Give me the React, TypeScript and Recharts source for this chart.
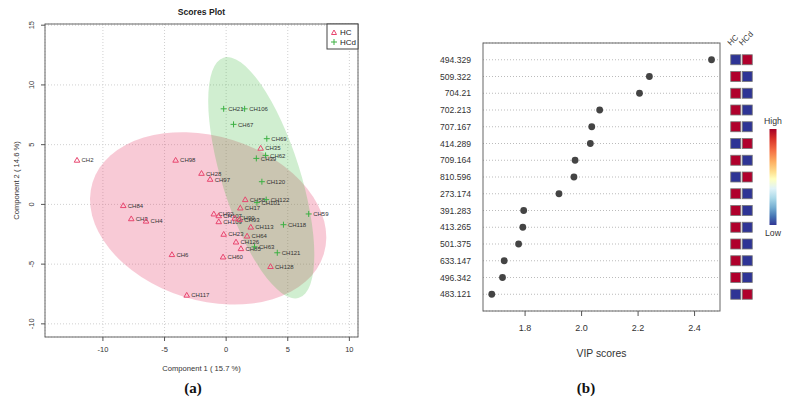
import React from 'react'
import {
  ScatterChart,
  Scatter,
  XAxis,
  YAxis,
  CartesianGrid,
  usePlotArea,
  useXAxisScale,
  useYAxisScale
} from 'recharts'

const FONT = '"Liberation Sans", Arial, Helvetica, sans-serif'

// ---- (a) scores plot ----
const HC_NAMES = ['CH2', 'CH98', 'CH28', 'CH97', 'CH35', 'CH84', 'CH3', 'CH4', 'CH6', 'CH117', 'CH60', 'CH23', 'CH126', 'CH85', 'CH64', 'CH113', 'CH128', 'CH17', 'CH58', 'CH92', 'CH107', 'CH109', 'CH90', 'CH93']
const HC_X = [-12.1, -4.1, -2.0, -1.3, 2.8, -8.35, -7.7, -6.5, -4.4, -3.2, -0.25, -0.2, 0.8, 1.2, 1.7, 2.0, 3.6, 1.15, 1.55, -1.0, -0.6, -0.6, 0.7, 1.1]
const HC_Y = [3.7, 3.7, 2.6, 2.1, 4.7, -0.1, -1.2, -1.4, -4.2, -7.6, -4.4, -2.5, -3.15, -3.7, -2.65, -1.9, -5.2, -0.3, 0.4, -0.8, -0.95, -1.45, -1.15, -1.25]

const HCD_NAMES = ['CH21', 'CH106', 'CH67', 'CH69', 'CH39', 'CH62', 'CH120', 'CH122', 'CH101', 'CH118', 'CH59', 'CH121', 'CH63']
const HCD_X = [-0.2, 1.5, 0.6, 3.3, 2.45, 3.2, 2.9, 3.25, 2.5, 4.65, 6.7, 4.15, 2.3]
const HCD_Y = [8.0, 8.0, 6.7, 5.5, 3.85, 4.1, 1.9, 0.4, 0.15, -1.7, -0.8, -4.05, -3.55]

// 95% regions: centre and the two semi-axis vectors, in data units
const ELLIPSE_CX = [-1.46, 2.85]
const ELLIPSE_CY = [-1.17, 2.23]
const ELLIPSE_U = [[9.38, -3.01], [3.06, -10.05]]
const ELLIPSE_V = [[-1.98, -6.56], [-3.03, -0.98]]

const SCORE_X_TICKS = [-10, -5, 0, 5, 10]
const SCORE_Y_TICKS = [-10, -5, 0, 5, 10, 15]

// ---- (b) VIP scores ----
const FEATURES = ['494.329', '509.322', '704.21', '702.213', '707.167', '414.289', '709.164', '810.596', '273.174', '391.283', '413.265', '501.375', '633.147', '496.342', '483.121']
const VIP = [2.46, 2.24, 2.205, 2.064, 2.036, 2.031, 1.977, 1.973, 1.92, 1.795, 1.792, 1.777, 1.726, 1.72, 1.682]
const HC_LEVEL = ['low', 'high', 'high', 'high', 'high', 'low', 'high', 'low', 'high', 'high', 'high', 'high', 'high', 'high', 'low']
const HCD_LEVEL = ['high', 'low', 'low', 'low', 'low', 'high', 'low', 'high', 'low', 'low', 'low', 'low', 'low', 'low', 'high']
const GROUPS = ['HC', 'HCd']
const VIP_TICKS = [1.8, 2.0, 2.2, 2.4]

const PINK = '#e8466f'
const GREEN = '#3cb043'
const RED_CELL = '#b0002c'
const BLUE_CELL = '#2e3495'

const hcData = HC_NAMES.map((n, i) => ({ name: n, x: HC_X[i], y: HC_Y[i] }))
const hcdData = HCD_NAMES.map((n, i) => ({ name: n, x: HCD_X[i], y: HCD_Y[i] }))
const vipData = FEATURES.map((f, i) => ({ name: f, vip: VIP[i], row: i + 1 }))
const heatData = FEATURES.flatMap((f, i) => [
  { row: i + 1, col: 1, level: HC_LEVEL[i] },
  { row: i + 1, col: 2, level: HCD_LEVEL[i] }
])

function callScale(s: any, v: number) {
  if (!s) return 0
  if (typeof s === 'function') return s(v)
  if (typeof s.map === 'function') return s.map(v)
  return 0
}

function Ellipses() {
  const xs = useXAxisScale()
  const ys = useYAxisScale()
  if (!xs || !ys) return null
  const fills = ['rgb(233,80,120)', 'rgb(60,185,60)']
  const ops = [0.3, 0.24]
  return (
    <g>
      {ELLIPSE_CX.map((cx, i) => {
        const cy = ELLIPSE_CY[i]
        const px = callScale(xs, cx)
        const py = callScale(ys, cy)
        const ux = callScale(xs, cx + ELLIPSE_U[i][0]) - px
        const uy = callScale(ys, cy + ELLIPSE_U[i][1]) - py
        const vx = callScale(xs, cx + ELLIPSE_V[i][0]) - px
        const vy = callScale(ys, cy + ELLIPSE_V[i][1]) - py
        return (
          <ellipse
            key={i}
            cx={0}
            cy={0}
            rx={1}
            ry={1}
            transform={`matrix(${ux} ${uy} ${vx} ${vy} ${px} ${py})`}
            fill={fills[i]}
            fillOpacity={ops[i]}
            stroke="none"
          />
        )
      })}
    </g>
  )
}

function ScoresFrame() {
  const pa = usePlotArea()
  if (!pa) return null
  const right = pa.x + pa.width
  const bottom = pa.y + pa.height
  return (
    <g fontFamily={FONT}>
      <rect x={pa.x} y={pa.y} width={pa.width} height={pa.height} fill="none" stroke="#666" />
      <text x={pa.x + pa.width / 2} y={pa.y - 9} textAnchor="middle" fontSize={8.6} fontWeight="bold" fill="#222">
        Scores Plot
      </text>
      <text x={pa.x + pa.width / 2} y={bottom + 33.5} textAnchor="middle" fontSize={7.6} fill="#333">
        Component 1 ( 15.7 %)
      </text>
      <text
        x={pa.x - 26}
        y={pa.y + pa.height / 2}
        textAnchor="middle"
        fontSize={7.6}
        fill="#333"
        transform={`rotate(-90 ${pa.x - 26} ${pa.y + pa.height / 2})`}
      >
        Component 2 ( 14.6 %)
      </text>
      <rect x={right - 31} y={pa.y} width={31} height={25} fill="#fff" stroke="#444" />
      <path
        d={`M${right - 24} ${pa.y + 6} L${right - 26.5} ${pa.y + 10.5} L${right - 21.5} ${pa.y + 10.5} Z`}
        fill="none"
        stroke={PINK}
      />
      <text x={right - 18} y={pa.y + 11} fontSize={8} fill="#222">HC</text>
      <path
        d={`M${right - 27} ${pa.y + 18} h6 M${right - 24} ${pa.y + 15} v6`}
        stroke={GREEN}
      />
      <text x={right - 18} y={pa.y + 21} fontSize={8} fill="#222">HCd</text>
    </g>
  )
}

const Triangle = (props: any) => {
  const { cx, cy, payload } = props
  return (
    <g>
      <path d={`M${cx} ${cy - 2.8} L${cx - 2.8} ${cy + 2} L${cx + 2.8} ${cy + 2} Z`} fill="none" stroke={PINK} strokeWidth={1} />
      <text x={cx + 4.5} y={cy + 2.2} fontSize={6} fill="#333" fontFamily={FONT}>{payload.name}</text>
    </g>
  )
}

const Plus = (props: any) => {
  const { cx, cy, payload } = props
  return (
    <g>
      <path d={`M${cx - 3} ${cy} h6 M${cx} ${cy - 3} v6`} stroke={GREEN} strokeWidth={1} />
      <text x={cx + 4.5} y={cy + 2.2} fontSize={6} fill="#333" fontFamily={FONT}>{payload.name}</text>
    </g>
  )
}

const RotatedYTick = (props: any) => {
  const { x, y, payload } = props
  const px = x - 1.5
  return (
    <text x={px} y={y} textAnchor="middle" fontSize={7.5} fill="#333" fontFamily={FONT} transform={`rotate(-90 ${px} ${y})`}>
      {payload.value}
    </text>
  )
}

function VipFrame() {
  const pa = usePlotArea()
  if (!pa) return null
  return (
    <g fontFamily={FONT}>
      <rect x={pa.x} y={pa.y} width={pa.width} height={pa.height} fill="none" stroke="#666" />
      <text x={pa.x + pa.width / 2} y={pa.y + pa.height + 46} textAnchor="middle" fontSize={10.4} fill="#333">
        VIP scores
      </text>
    </g>
  )
}

const Dot = (props: any) => <circle cx={props.cx} cy={props.cy} r={3.4} fill="#444" />

const Cell = (props: any) => {
  const { cx, cy, payload } = props
  return (
    <rect
      x={cx - 5}
      y={cy - 5}
      width={10}
      height={10}
      fill={payload.level === 'high' ? RED_CELL : BLUE_CELL}
      stroke="#777"
      strokeWidth={0.8}
    />
  )
}

const GroupTick = (props: any) => {
  const { x, payload } = props
  const tx = x - 5
  const ty = 46
  return (
    <text x={tx} y={ty} fontSize={8} fill="#333" fontFamily={FONT} transform={`rotate(-45 ${tx} ${ty})`}>
      {GROUPS[payload.value - 1]}
    </text>
  )
}

export default function App() {
  return (
    <div style={{ position: 'absolute', left: 0, top: 0, width: 788, height: 405, background: '#fff', overflow: 'hidden' }}>
      {/* (a) */}
      <div style={{ position: 'absolute', left: 0, top: 0 }}>
        <ScatterChart width={400} height={405} margin={{ top: 24, right: 42, left: 15, bottom: 43 }}>
          <CartesianGrid stroke="#d0d0d0" strokeDasharray="1 2" />
          <XAxis
            type="number"
            dataKey="x"
            domain={[-14.7, 10.7]}
            ticks={SCORE_X_TICKS}
            allowDataOverflow
            height={25}
            axisLine={false}
            tickSize={4}
            tickMargin={6}
            tickLine={{ stroke: '#555' }}
            tick={{ fontSize: 7.5, fill: '#333', fontFamily: FONT }}
          />
          <YAxis
            type="number"
            dataKey="y"
            domain={[-11.1, 15.1]}
            ticks={SCORE_Y_TICKS}
            allowDataOverflow
            width={30}
            axisLine={false}
            tickSize={4}
            tickMargin={5}
            tickLine={{ stroke: '#555' }}
            tick={<RotatedYTick />}
          />
          <Ellipses />
          <Scatter data={hcData} shape={<Triangle />} isAnimationActive={false} />
          <Scatter data={hcdData} shape={<Plus />} isAnimationActive={false} />
          <ScoresFrame />
        </ScatterChart>
      </div>

      {/* (b) */}
      <div style={{ position: 'absolute', left: 400, top: 0 }}>
        <ScatterChart width={388} height={405} margin={{ top: 43, right: 68, left: 13, bottom: 64 }}>
          <CartesianGrid vertical={false} stroke="#bbb" strokeDasharray="1 2" />
          <XAxis
            type="number"
            dataKey="vip"
            domain={[1.651, 2.49]}
            ticks={VIP_TICKS}
            allowDataOverflow
            height={30}
            axisLine={false}
            tickSize={5}
            tickMargin={9}
            tickLine={{ stroke: '#555' }}
            tickFormatter={(v: number) => v.toFixed(1)}
            tick={{ fontSize: 9, fill: '#333', fontFamily: FONT }}
          />
          <YAxis
            type="number"
            dataKey="row"
            domain={[0, 16]}
            reversed
            ticks={FEATURES.map((_, i) => i + 1)}
            interval={0}
            width={70}
            axisLine={false}
            tickLine={false}
            tickSize={0}
            tickMargin={12}
            tickFormatter={(v: number) => FEATURES[v - 1] ?? ''}
            tick={{ fontSize: 8.6, fill: '#333', fontFamily: FONT }}
          />
          <Scatter data={vipData} shape={<Dot />} isAnimationActive={false} />
          <VipFrame />
        </ScatterChart>
      </div>

      {/* heat map of group levels */}
      <div style={{ position: 'absolute', left: 727, top: 0 }}>
        <ScatterChart width={28} height={405} margin={{ top: 13, right: 2, left: 3, bottom: 94 }} style={{ overflow: 'visible' }}>
          <XAxis
            type="number"
            dataKey="col"
            orientation="top"
            domain={[0.5, 2.5]}
            ticks={[1, 2]}
            interval={0}
            height={30}
            axisLine={false}
            tickLine={false}
            tick={<GroupTick />}
          />
          <YAxis type="number" dataKey="row" domain={[0, 16]} reversed hide />
          <Scatter data={heatData} shape={<Cell />} isAnimationActive={false} />
        </ScatterChart>
      </div>

      {/* colour key */}
      <svg style={{ position: 'absolute', left: 760, top: 110 }} width={28} height={130}>
        <defs>
          <linearGradient id="rdylbu" x1="0" y1="0" x2="0" y2="1">
            <stop offset="0%" stopColor="#a50026" />
            <stop offset="10%" stopColor="#d73027" />
            <stop offset="22%" stopColor="#f46d43" />
            <stop offset="34%" stopColor="#fdae61" />
            <stop offset="45%" stopColor="#fee090" />
            <stop offset="52%" stopColor="#ffffbf" />
            <stop offset="62%" stopColor="#e0f3f8" />
            <stop offset="72%" stopColor="#abd9e9" />
            <stop offset="82%" stopColor="#74add1" />
            <stop offset="91%" stopColor="#4575b4" />
            <stop offset="100%" stopColor="#313695" />
          </linearGradient>
        </defs>
        <text x={13} y={14} textAnchor="middle" fontSize={8.7} fill="#333" fontFamily={FONT}>High</text>
        <rect x={9.5} y={19} width={7} height={96} fill="url(#rdylbu)" />
        <text x={13} y={126} textAnchor="middle" fontSize={8.7} fill="#333" fontFamily={FONT}>Low</text>
      </svg>

      <div style={{ position: 'absolute', left: 173, top: 380, width: 40, textAlign: 'center', fontFamily: '"Liberation Serif", "DejaVu Serif", serif', fontWeight: 'bold', fontSize: 15, color: '#111' }}>
        (a)
      </div>
      <div style={{ position: 'absolute', left: 566, top: 380, width: 40, textAlign: 'center', fontFamily: '"Liberation Serif", "DejaVu Serif", serif', fontWeight: 'bold', fontSize: 15, color: '#111' }}>
        (b)
      </div>
    </div>
  )
}
